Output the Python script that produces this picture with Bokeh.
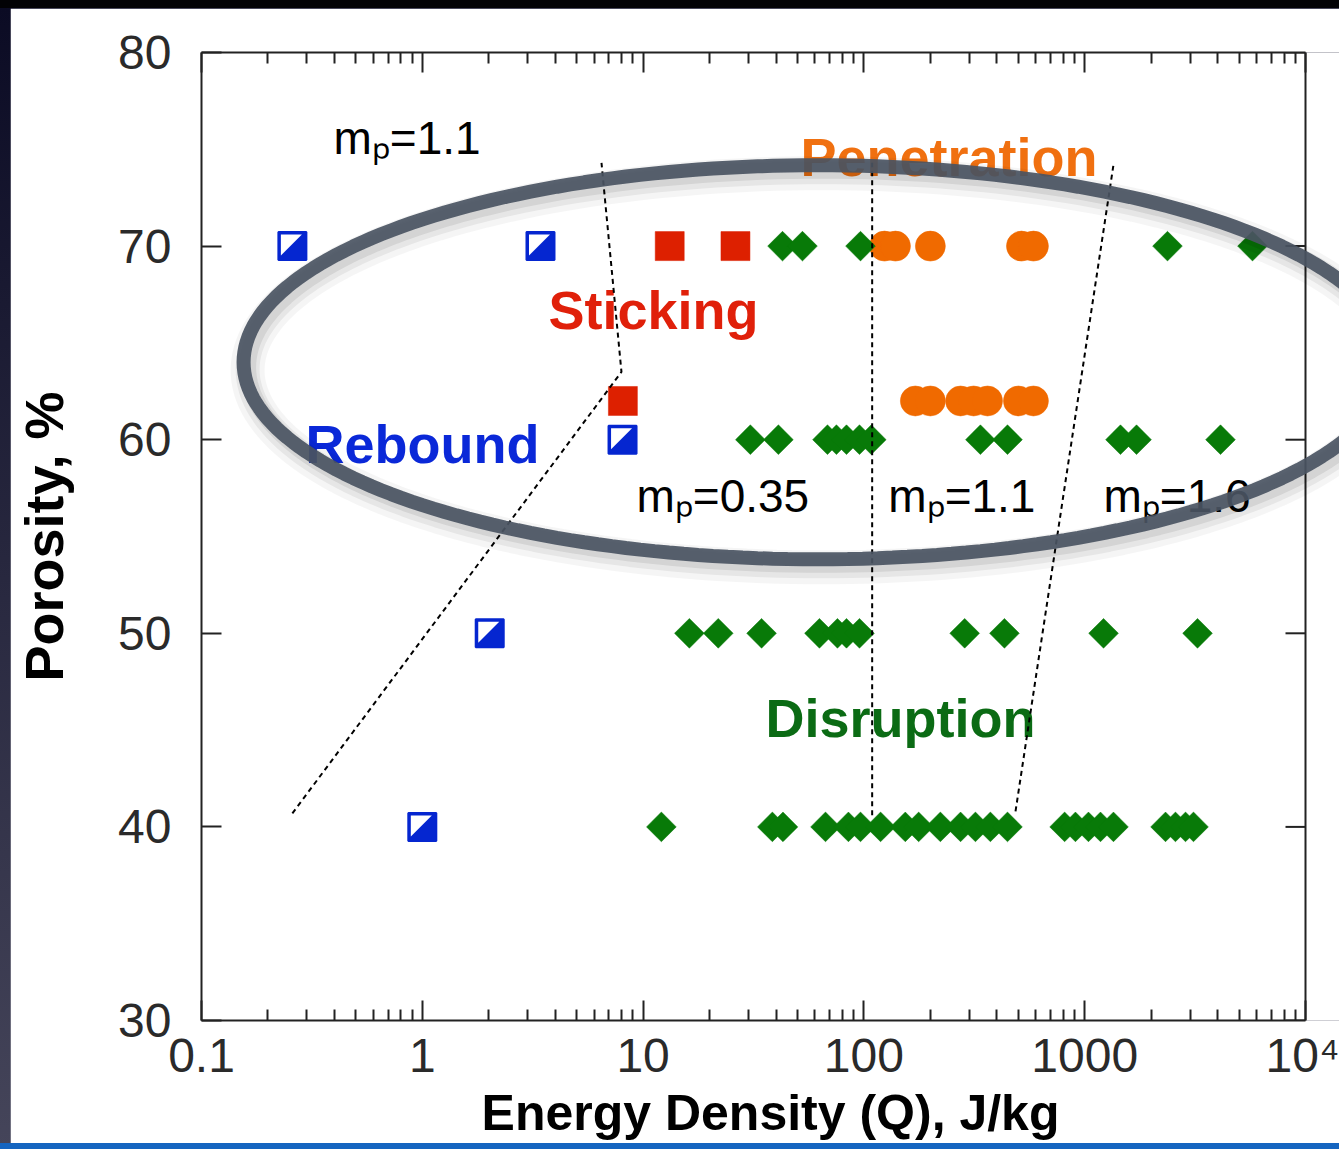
import math
from bokeh.plotting import figure
from bokeh.models import (FixedTicker, LogAxis, CustomJSTickFormatter,
                          Range1d, PolyAnnotation)
from bokeh.layouts import column
from bokeh.embed import file_html
from bokeh.resources import INLINE
from bokeh.core.properties import value

# ---------------- data ----------------
rebound_q = [0.258, 3.43, 8.07, 2.02, 1.0]
rebound_por = [70, 70, 60, 50, 40]

sticking_q = [13.2, 26.2, 8.1]
sticking_por = [70, 70, 62]

penetration_q = [124, 139, 200, 517, 586, 171, 200, 274, 314, 363, 501, 586]
penetration_por = [70, 70, 70, 70, 70, 62, 62, 62, 62, 62, 62, 62]

disruption_q = [42.8, 52.7, 96.5, 2371, 5754,
                30.6, 41.0, 68.4, 75.1, 83.4, 95.5, 108, 337, 447, 1452, 1717, 4121,
                16.2, 21.9, 34.4, 62.9, 75.9, 83.4, 95.5, 286, 433, 1217, 3243,
                12.1, 38.5, 43.0, 67.0, 85.1, 96.5, 119, 154, 177, 222, 274, 320, 374,
                447, 811, 908, 1040, 1179, 1350, 2323, 2577, 2862, 3110]
disruption_por = [70, 70, 70, 70, 70,
                  60, 60, 60, 60, 60, 60, 60, 60, 60, 60, 60, 60,
                  50, 50, 50, 50, 50, 50, 50, 50, 50, 50, 50,
                  40, 40, 40, 40, 40, 40, 40, 40, 40, 40, 40, 40, 40,
                  40, 40, 40, 40, 40, 40, 40, 40, 40, 40]

# boundary lines (dotted)
bound_a_q = [0.258, 7.98, 6.48]
bound_a_por = [40.7, 63.5, 74.3]
bound_b_q = [109, 109]
bound_b_por = [40.6, 74.3]
bound_c_q = [486, 1350]
bound_c_por = [40.8, 74.2]

mp_text = ["mₚ=1.1", "mₚ=0.35", "mₚ=1.1", "mₚ=1.6"]
mp_q = [0.396, 9.33, 129, 1217]
mp_por = [75.6, 57.1, 57.1, 57.1]

region_text = ["Penetration", "Sticking", "Rebound", "Disruption"]
region_q = [51.6, 3.73, 0.296, 35.8]
region_por = [74.6, 66.7, 59.8, 45.6]
region_color = ["#f07010", "#e0200a", "#0a28d8", "#0b6b14"]

x_ticks = [0.1, 1, 10, 100, 1000, 10000]
x_tick_labels = ["0.1", "1", "10", "100", "1000", "10⁴"]
y_ticks = [30, 40, 50, 60, 70, 80]
x_min, x_max = 0.1, 10000
y_min, y_max = 30, 80

# highlight ellipse: centre (data) and semi-axes (screen px)
ell_q, ell_por = 61.7, 64.0
ell_a, ell_b = 574, 197

# ---------------- figure ----------------
FW, FH = 1329, 1135
BL, BT, BB = 191, 44, 123
box_w = 1104                      # pixel width of the 0.1 .. 1e4 box
frame_w = FW - BL                 # frame runs to the right edge of the canvas
frame_h = FH - BT - BB
ppd = box_w / 5.0                 # pixels per decade
ppu = frame_h / 50.0              # pixels per porosity unit
x_end = 10 ** (math.log10(x_min) + frame_w / ppd)

p = figure(width=FW, height=FH, x_axis_type="log",
           x_range=Range1d(x_min, x_end), y_range=Range1d(y_min, y_max),
           output_backend="svg", toolbar_location=None,
           min_border_left=BL, min_border_top=BT, min_border_right=0, min_border_bottom=BB)
p.margin = (8, 0, 6, 10)
p.background_fill_color = "white"
p.border_fill_color = "white"
p.xgrid.visible = False
p.ygrid.visible = False
p.outline_line_color = None

minor = [m * 10 ** d for d in range(-1, 4) for m in range(2, 10)]
xt = FixedTicker(ticks=x_ticks, minor_ticks=minor)
yt = FixedTicker(ticks=y_ticks, minor_ticks=[])
fmt_map = "{" + ",".join("'%d':'%s'" % (i - 1, s) for i, s in enumerate(x_tick_labels)) + "}"
xfmt = CustomJSTickFormatter(code="const m=%s; const k=Math.round(Math.log10(tick)); return m[String(k)];" % fmt_map)
blank = CustomJSTickFormatter(code="return '';")

for ax in (p.xaxis[0], p.yaxis[0]):
    ax.major_tick_in = 20
    ax.major_tick_out = 0
    ax.minor_tick_in = 11
    ax.minor_tick_out = 0
    ax.axis_line_color = "#222222"
    ax.axis_line_width = 2
    ax.major_tick_line_color = "#222222"
    ax.major_tick_line_width = 2
    ax.minor_tick_line_color = "#222222"
    ax.minor_tick_line_width = 2
    ax.major_label_text_font = "Liberation Sans"
    ax.major_label_text_font_size = "48px"
    ax.major_label_text_color = "#2a2a2a"
p.xaxis[0].ticker = xt
p.xaxis[0].bounds = (x_min, x_max)
p.xaxis[0].formatter = xfmt
p.xaxis[0].major_label_standoff = 8
p.xaxis[0].axis_label = "Energy Density (Q), J/kg"
p.xaxis[0].axis_label_text_font = "Liberation Sans"
p.xaxis[0].axis_label_text_font_style = "bold"
p.xaxis[0].axis_label_text_font_size = "50px"
p.xaxis[0].axis_label_text_color = "black"
p.xaxis[0].axis_label_standoff = 0

p.yaxis[0].ticker = yt
p.yaxis[0].major_label_standoff = 30
p.yaxis[0].minor_tick_line_color = None
p.yaxis[0].axis_label = "Porosity, %"
p.yaxis[0].axis_label_text_font = "Liberation Sans"
p.yaxis[0].axis_label_text_font_style = "bold"
p.yaxis[0].axis_label_text_font_size = "54px"
p.yaxis[0].axis_label_text_color = "black"
p.yaxis[0].axis_label_standoff = 41

top = LogAxis(ticker=xt, formatter=blank, bounds=(x_min, x_max),
              major_tick_in=20, major_tick_out=0,
              minor_tick_in=11, minor_tick_out=0, axis_line_color="#222222", axis_line_width=2,
              major_tick_line_color="#222222", major_tick_line_width=2,
              minor_tick_line_color="#222222", minor_tick_line_width=2, major_label_standoff=0)
p.add_layout(top, "above")

# right-hand side of the box, with inward ticks
p.line([x_max, x_max], [y_min, y_max], line_color="#222222", line_width=2)
tick_x1 = x_max * 10 ** (-20 / ppd)
p.segment(x0=[x_max] * len(y_ticks), y0=y_ticks, x1=[tick_x1] * len(y_ticks), y1=y_ticks,
          line_color="#222222", line_width=2)

# ---------------- texts inside ----------------
p.text(x=region_q, y=region_por, text=region_text, text_color=region_color,
       text_font=value("Liberation Sans"), text_font_style="bold", text_font_size="54px",
       text_align="left", text_baseline="middle")
p.text(x=mp_q, y=mp_por, text=mp_text, text_color="black",
       text_font=value("Liberation Sans"), text_font_size="46px",
       text_align="left", text_baseline="middle")

# ---------------- markers ----------------
p.scatter(penetration_q, penetration_por, marker="circle", size=30,
          fill_color="#f06a00", line_color="#f06a00", line_width=0.5)
p.scatter(disruption_q, disruption_por, marker="square", angle=0.785398, size=21,
          fill_color="#087a08", line_color="#087a08", line_width=0.5)
p.scatter(sticking_q, sticking_por, marker="square", size=29,
          fill_color="#dd2000", line_color="#dd2000", line_width=0.5)
p.scatter(rebound_q, rebound_por, marker="square", size=28,
          fill_color="#0526d0", line_color="#0526d0", line_width=2)
tri_dx = [-11.5, 9.5, -11.5]
tri_dy = [11.5, 11.5, -9.5]
tri_xs = [[q * 10 ** (dx / ppd) for dx in tri_dx] for q in rebound_q]
tri_ys = [[r + dy / ppu for dy in tri_dy] for r in rebound_por]
p.patches(tri_xs, tri_ys, fill_color="white", line_color=None)

# ---------------- boundaries ----------------
for bq, bp in ((bound_a_q, bound_a_por), (bound_b_q, bound_b_por), (bound_c_q, bound_c_por)):
    p.line(bq, bp, line_color="black", line_width=2, line_dash="5 4")

# ---------------- ellipse ----------------
def ellipse_path(cq, cp, a, b, dx=0.0, dy=0.0, n=240):
    ts = [2 * math.pi * i / n for i in range(n)]
    xs = [cq * 10 ** ((a * math.cos(t) + dx) / ppd) for t in ts]
    ys = [cp + (b * math.sin(t) - dy) / ppu for t in ts]
    return xs, ys

for lw, al, off in ((34, 0.04, 8), (24, 0.06, 7), (17, 0.08, 5)):
    sx, sy = ellipse_path(ell_q, ell_por, ell_a, ell_b, dx=4, dy=off)
    p.add_layout(PolyAnnotation(xs=sx, ys=sy, fill_color=None, line_color="black",
                                line_alpha=al, line_width=lw))
ex, ey = ellipse_path(ell_q, ell_por, ell_a, ell_b)
p.add_layout(PolyAnnotation(xs=ex, ys=ey, fill_color=None, line_color="#4a5462",
                            line_alpha=0.92, line_width=14))

bg = ("linear-gradient(to bottom, rgba(0,0,0,0) calc(100% - 6px), #1565c0 calc(100% - 6px)), "
      "linear-gradient(to bottom, #020205 0px, #020205 8px, #0b0b24 8px, #45455a 100%)")
layout = column(p, styles={"background": bg})

open("out.html", "w").write(file_html(layout, INLINE))
